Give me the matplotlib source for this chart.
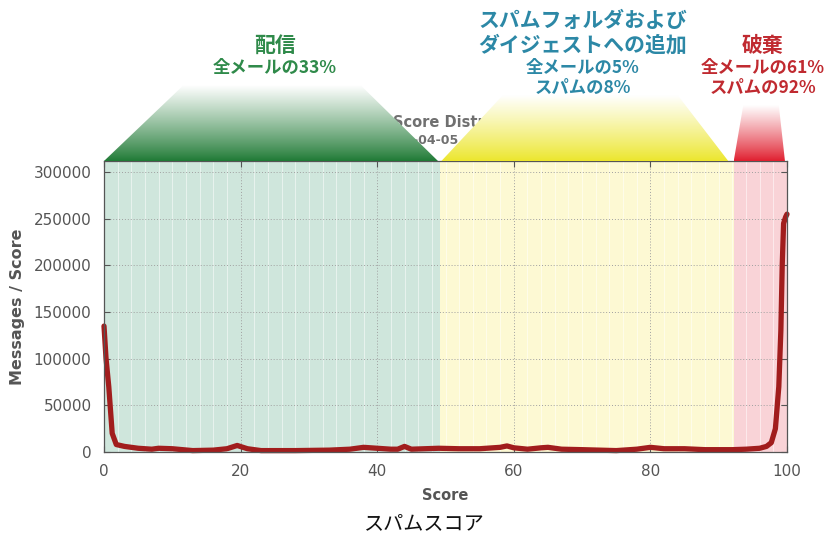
"""Spam score distribution with action zones."""

import matplotlib

matplotlib.use("Agg")
import matplotlib.pyplot as plt
import numpy as np
from matplotlib.colors import to_rgb
from matplotlib.patches import Polygon

plt.rcParams["font.family"] = ["DejaVu Sans", "Noto Sans CJK JP"]

# messages per score value
score = [0, 0.3, 0.7, 1.2, 1.8, 3, 5, 7, 8, 10, 13, 16, 18, 19.5, 21, 23, 28,
         33, 36, 38, 40, 42, 43, 44, 45, 47, 49, 52, 55, 58, 59, 60, 62, 64,
         65, 67, 70, 75, 78, 80, 82, 85, 88, 90, 92, 94, 95, 96, 97, 97.7,
         98.3, 98.8, 99.1, 99.3, 99.5, 99.8, 100]
messages = [135000, 100000, 70000, 20000, 8000, 6000, 4000, 3000, 4000, 3500,
            1500, 2000, 3500, 7000, 3500, 1500, 1500, 2000, 3000, 5000, 4000,
            3000, 3000, 6000, 3000, 3500, 4000, 3500, 3500, 5000, 6500, 4500,
            3000, 4500, 5000, 3000, 2500, 1500, 3000, 5000, 3500, 3500, 2500,
            2500, 2500, 3000, 3500, 4000, 6000, 10000, 25000, 70000, 130000,
            200000, 245000, 252000, 255000]

# action zones along the score axis
zone_edges = [0, 49.2, 92.2, 100]
zone_titles = [["配信"], ["スパムフォルダおよび", "ダイジェストへの追加"], ["破棄"]]
zone_notes = [["全メールの33%"], ["全メールの5%", "スパムの8%"],
              ["全メールの61%", "スパムの92%"]]

x_ticks = [0, 20, 40, 60, 80, 100]
y_ticks = [0, 50000, 100000, 150000, 200000, 250000, 300000]

zone_bg = ["#cfe6dc", "#fdf9d3", "#f9d3d7"]
zone_fill = ["#1f7a35", "#ece62c", "#e01e2e"]
zone_text = ["#2f8a4a", "#2c88a6", "#c02a30"]
# trapezoid shape: (left inset, right inset, top value, gap)
trap_shape = [(11.6, 11.3, 393000, 0.0), (9.0, 7.4, 382500, 0.5),
              (1.4, 0.9, 371800, 0.0)]
text_x = [275, 583, 763]

YMAX = 312000

fig = plt.figure(figsize=(8.3, 5.36), dpi=100)
ax = fig.add_axes([104 / 830, 84 / 536, 683 / 830, 291 / 536])

for i in range(3):
    ax.axvspan(zone_edges[i], zone_edges[i + 1], color=zone_bg[i], lw=0,
               zorder=0.5)

ax.plot(score, messages, color="#a11d1d", lw=3.8, solid_joinstyle="round",
        solid_capstyle="round", zorder=2, clip_on=False)

ax.set_xlim(0, 100)
ax.set_ylim(0, YMAX)
ax.set_xticks(x_ticks)
ax.set_yticks(y_ticks)
ax.set_xticks(np.arange(0, 101, 2), minor=True)
ax.grid(True, which="major", color="#a0a0a0", lw=0.7, ls=(0, (1, 2)))
ax.grid(True, which="minor", axis="x", color="white", lw=0.6, alpha=0.6)
ax.tick_params(which="major", direction="in", length=4, top=True, right=True,
               colors="#555555", labelsize=11, labelcolor="#555555")
ax.tick_params(axis="y", which="major", pad=9)
ax.tick_params(axis="x", which="major", pad=9)
ax.tick_params(which="minor", length=0)
for sp in ax.spines.values():
    sp.set_color("#555555")
    sp.set_linewidth(0.9)

ax.set_xlabel("Score", fontsize=10.5, color="#555555", fontweight="bold")
ax.xaxis.set_label_coords(0.5, -0.148)
ax.xaxis.label.set_va("center")
ax.set_ylabel("Messages / Score", fontsize=11.5, color="#555555",
              fontweight="bold")
ax.yaxis.set_label_coords(-0.126, 0.5)
ax.yaxis.label.set_va("center")

# chart title, mostly hidden behind the zone banners
ax.text(42.3, 353600, "Score Distribution", fontsize=10.5, color="#707070",
        fontweight="bold", ha="left", va="center", clip_on=False, zorder=2.5)
ax.text(40.1, 334000, "2010-04-05 - 2010-05-05", fontsize=9,
        color="#707070", fontweight="bold", ha="left", va="center",
        clip_on=False, zorder=2.5)

# gradient banners above each zone
for i in range(3):
    left, right = zone_edges[i], zone_edges[i + 1] - trap_shape[i][3] - 0.3
    if i == 1:
        left += 0.2
    top = trap_shape[i][2]
    poly = Polygon([(left, YMAX), (right, YMAX),
                    (right - trap_shape[i][1], top),
                    (left + trap_shape[i][0], top)],
                   closed=True, transform=ax.transData)
    c = np.array(to_rgb(zone_fill[i]))
    t = np.linspace(0, 1, 200)[:, None] ** 0.9
    grad = (c[None, :] * (1 - t) + t)[:, None, :]
    im = ax.imshow(grad, extent=[left, right, YMAX, top], origin="lower",
                   aspect="auto", interpolation="bilinear", zorder=3)
    im.set_clip_box(fig.bbox)
    im.set_clip_path(poly)

ax.set_xlim(0, 100)
ax.set_ylim(0, YMAX)

cjk = ["Noto Sans CJK JP", "DejaVu Sans"]
for i in range(3):
    for k, line in enumerate(reversed(zone_titles[i])):
        fig.text(text_x[i] / 830, 1 - (45 - 25 * k) / 536, line, ha="center",
                 va="center", fontsize=15, fontweight="bold",
                 color=zone_text[i], family=cjk)
    for k, line in enumerate(zone_notes[i]):
        fig.text(text_x[i] / 830, 1 - (68 + 20 * k) / 536, line, ha="center",
                 va="center", fontsize=12.5, fontweight="bold",
                 color=zone_text[i], family=cjk)

fig.text(424 / 830, 1 - 524 / 536, "スパムスコア", ha="center", va="center",
         fontsize=14.5, color="#111111", family=cjk)

fig.savefig("out.png", dpi=100)
plt.close(fig)
